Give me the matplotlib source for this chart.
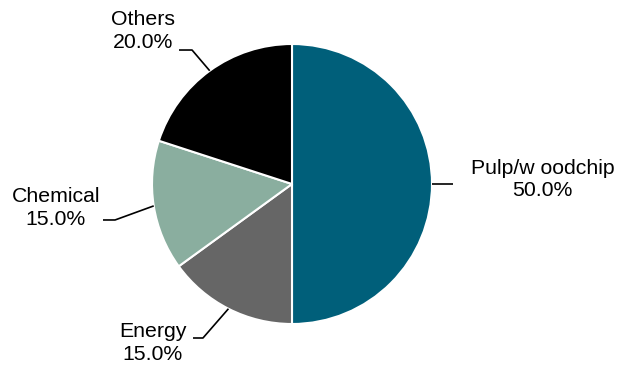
import numpy as np
import matplotlib.pyplot as plt

plt.rcParams['font.family'] = ['Liberation Sans', 'DejaVu Sans']

labels = ['Pulp/w oodchip', 'Energy', 'Chemical', 'Others']
shares = [50.0, 15.0, 15.0, 20.0]
colors = ['#005f7a', '#666666', '#8aae9f', '#000000']

# where each label sits (data coords) and how its leader bends
label_pos = {
    'Pulp/w oodchip': (1.79, 0.03),
    'Energy': (-0.996, -1.136),
    'Chemical': (-1.686, -0.171),
    'Others': (-1.064, 1.093),
}
leader = {
    'Pulp/w oodchip': [(1.15, 0.0)],
    'Energy': [(-0.636, -1.10), (-0.707, -1.10)],
    'Chemical': [(-1.264, -0.257), (-1.35, -0.257)],
    'Others': [(-0.714, 0.957), (-0.807, 0.957)],
}

fig = plt.figure(figsize=(6.28, 3.69), dpi=100)
ax = fig.add_axes([(292 - 140) / 628, (369 - 184 - 140) / 369, 280 / 628, 280 / 369])

wedges, _ = ax.pie(shares, colors=colors, startangle=90, counterclock=False,
                   radius=1, wedgeprops=dict(edgecolor='white', linewidth=1.5))
ax.set_xlim(-1, 1)
ax.set_ylim(-1, 1)
ax.set_aspect('equal')
ax.axis('off')

for w, lab, val in zip(wedges, labels, shares):
    mid = np.deg2rad((w.theta1 + w.theta2) / 2)
    pts = [(np.cos(mid), np.sin(mid))] + leader[lab]
    xs, ys = zip(*pts)
    ax.plot(xs, ys, color='black', lw=1.2, clip_on=False, solid_capstyle='butt')
    tx, ty = label_pos[lab]
    ax.text(tx, ty, f'{lab}\n{val:.1f}%', ha='center', va='center',
            multialignment='center', fontsize=15.3, linespacing=1.22,
            color='black', clip_on=False)

fig.savefig('out.png', dpi=100)
